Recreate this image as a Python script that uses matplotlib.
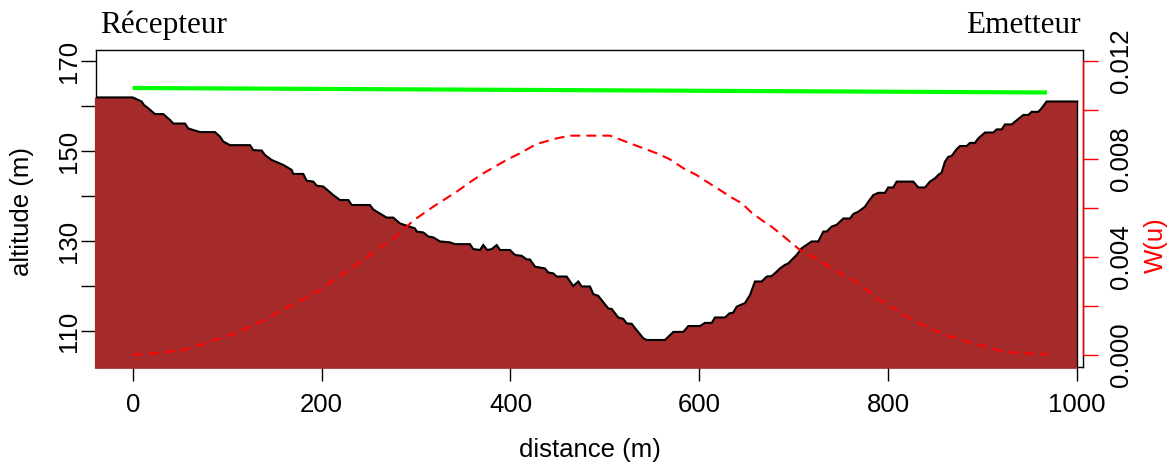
import matplotlib
matplotlib.use("Agg")
import matplotlib.pyplot as plt

# ---------------- data ----------------
# terrain profile (distance m, altitude m)
terrain_dist = [-40, 0, 9.5, 12, 16.5, 23.6, 32.4, 39.5, 43, 55.4, 58.9, 71.3, 87.1, 92.4,
                95.9, 103, 124.2, 127.7, 136.6, 140.1, 147.2, 159.5, 168.3, 170, 180.6,
                184.2, 191.2, 194.8, 201.8, 212.4, 219.5, 228.3, 231.9, 251.2, 254.7,
                268.9, 275.9, 283, 291.8, 298.9, 300.7, 307.7, 313, 318.3, 325.4, 335.9,
                341.2, 357.1, 360.6, 367.7, 371.2, 375.4, 380.1, 385.4, 388.9, 399.5,
                404.8, 411.9, 417.2, 420.6, 426, 436.5, 440, 445.3, 448.9, 459.5, 466.5,
                471.8, 475.4, 484.2, 487.7, 493, 503.6, 507.2, 514.1, 519.4, 523, 528.3,
                533.6, 540.6, 544.2, 563.6, 572.4, 583, 588.3, 600.6, 605.9, 613, 616.5,
                627.1, 631.7, 635.9, 639.5, 644.8, 648.3, 653.6, 658.9, 666, 671.3, 676.5,
                681.9, 685.3, 690.6, 694.1, 697.7, 703, 708.3, 711.8, 718.9, 725.9, 731.2,
                734.8, 740.1, 745.4, 752.4, 759.5, 763, 768.2, 775.3, 778.8, 784.1, 789.4,
                796.5, 800, 805.3, 808.9, 826.5, 831.8, 838.9, 844.1, 849.4, 853, 856.5,
                860, 863.5, 867.1, 872.4, 875.9, 883, 886.5, 891.8, 895.3, 902.4, 911.2,
                914.8, 920.1, 923.6, 930.7, 934.1, 937.7, 943, 948.3, 951.8, 958.8, 962.4,
                967.7, 1000]
terrain_alt = [161.9, 161.9, 161.0, 160.2, 159.5, 158.2, 158.2, 156.9, 156.1, 156.1, 155.0,
               154.2, 154.2, 153.2, 152.1, 151.3, 151.3, 150.2, 150.1, 149.1, 148.0, 146.9,
               145.8, 144.9, 144.9, 143.4, 143.2, 142.3, 142.1, 140.2, 139.1, 139.1, 138.0,
               138.0, 137.0, 135.2, 135.2, 133.9, 133.3, 132.8, 132.1, 131.9, 131.0, 130.8,
               129.9, 129.7, 129.3, 129.3, 128.2, 128.0, 129.1, 128.0, 128.2, 129.1, 128.0,
               128.0, 126.9, 126.7, 125.9, 125.9, 124.3, 123.9, 123.0, 122.8, 122.1, 122.1,
               120.0, 121.0, 119.9, 119.9, 118.2, 117.8, 115.0, 114.9, 113.0, 112.7, 111.7,
               111.6, 110.2, 108.4, 108.0, 108.0, 109.8, 109.8, 111.1, 111.1, 111.8, 111.8,
               113.0, 113.0, 113.9, 114.1, 115.4, 115.9, 116.2, 118.0, 121.0, 121.0, 122.1,
               122.2, 123.2, 123.9, 124.7, 125.0, 125.8, 126.9, 128.4, 128.9, 129.9, 129.9,
               132.1, 132.1, 133.2, 133.6, 135.0, 135.0, 136.0, 136.5, 137.6, 138.7, 140.2,
               140.7, 140.7, 141.9, 141.9, 143.2, 143.2, 141.9, 141.9, 143.2, 143.9, 144.7,
               145.2, 147.6, 148.7, 148.9, 150.4, 151.1, 151.1, 151.8, 151.8, 152.8, 154.1,
               154.1, 154.8, 154.8, 155.9, 155.9, 156.5, 157.1, 158.0, 158.0, 158.7, 158.7,
               159.5, 161.0, 161.0]

# line of sight (receiver -> emitter)
los_dist = [0, 968]
los_alt = [164.0, 163.0]

# weighting function W(u)
w_dist = [0, 25.4, 53.6, 67.8, 88.9, 106.5, 124.2, 141.9, 156, 173.6, 198.3, 212.4, 237.1,
          251.2, 265.3, 279.5, 297.1, 318.3, 343, 360.6, 371.2, 396, 410, 427.7, 448.9,
          463, 505.4, 526.5, 554.8, 568.9, 583, 597.1, 607.7, 621.8, 632.4, 644.8, 655.4,
          666, 676.5, 685.3, 695.9, 706.5, 720.6, 734.8, 748.9, 763, 777.1, 791.2, 805.3,
          823, 840.6, 861.8, 883, 900.6, 918.3, 939.4, 967.7]
w_val = [0.0, 0.000057, 0.00019, 0.00036, 0.00063, 0.00085, 0.00114, 0.00145, 0.0018,
         0.00212, 0.00264, 0.00305, 0.00367, 0.00407, 0.00448, 0.00485, 0.00548, 0.00605,
         0.00666, 0.00714, 0.00741, 0.00796, 0.00823, 0.00861, 0.00884, 0.00895, 0.00895,
         0.00864, 0.00823, 0.00798, 0.00762, 0.00734, 0.00707, 0.00673, 0.00646, 0.00619,
         0.0058, 0.0055, 0.00523, 0.00496, 0.00462, 0.00428, 0.00398, 0.00367, 0.00333,
         0.00305, 0.00264, 0.00223, 0.0019, 0.00149, 0.00114, 0.0008, 0.00053, 0.00036,
         0.00016, 0.00006, 0.00002]

x_ticks = [0, 200, 400, 600, 800, 1000]
y_ticks = [110, 120, 130, 140, 150, 160, 170]
y_ticklabels = ["110", "", "130", "", "150", "", "170"]
w_ticks = [0.0, 0.002, 0.004, 0.006, 0.008, 0.010, 0.012]
w_ticklabels = ["0.000", "", "0.004", "", "0.008", "", "0.012"]

# ---------------- figure ----------------
W, H = 1172, 466
fig = plt.figure(figsize=(W / 100, H / 100), dpi=100)
L, R, T, B = 96, 1083, 50, 367
ax = fig.add_axes([L / W, 1 - B / H, (R - L) / W, (B - T) / H])
sans = "Liberation Sans"
serif = "Liberation Serif"
fs = 18.5

ax.set_xlim(-38.85, 1006.2)
ax.set_ylim(102.0, 172.44)

bottom_alt = 101.6
poly_x = list(terrain_dist) + [terrain_dist[-1], terrain_dist[0]]
poly_y = list(terrain_alt) + [bottom_alt, bottom_alt]
ax.fill(poly_x, poly_y, color="#A52A2A", lw=0, zorder=3, clip_on=False)
ax.plot(terrain_dist, terrain_alt, color="black", lw=1.5, zorder=4,
        solid_joinstyle="miter")
ax.plot([terrain_dist[-1], terrain_dist[-1]], [terrain_alt[-1], 102.0],
        color="black", lw=1.0, zorder=4)
ax.plot(los_dist, los_alt, color="#00FF00", lw=3.0, zorder=5, solid_capstyle="butt")

for s in ax.spines.values():
    s.set_linewidth(1.0)
ax.set_xticks(x_ticks)
ax.set_xticklabels([str(v) for v in x_ticks], fontsize=fs, family=sans)
ax.set_yticks(y_ticks)
ax.set_yticklabels(y_ticklabels, fontsize=fs, family=sans, rotation=90, va="center")
ax.tick_params(axis="x", length=10, width=1.0, pad=9)
ax.tick_params(axis="y", length=11, width=1.0, pad=0)
ax.set_xlabel("distance (m)", fontsize=fs, family=sans, labelpad=14.5)

ax2 = ax.twinx()
ax2.set_position(ax.get_position())
ax2.set_ylim(-0.000503, 0.01245)
ax2.plot(w_dist, w_val, color="red", lw=1.5, ls=(0, (4.8, 2.9)), zorder=6)
for k in ["left", "top", "bottom"]:
    ax2.spines[k].set_visible(False)
ax2.spines["right"].set_bounds(0, 0.012)
ax2.spines["right"].set_color("red")
ax2.spines["right"].set_linewidth(1.0)
ax2.set_yticks(w_ticks)
ax2.set_yticklabels(w_ticklabels, fontsize=fs, family=sans, rotation=90, va="center")
ax2.tick_params(axis="y", length=11, width=1.0, color="red", pad=8)

fig.text(22 / W, 1 - 211 / H, "altitude (m)", rotation=90, ha="center", va="center",
         fontsize=fs, family=sans)
fig.text(1156 / W, 1 - 245 / H, "W(u)", rotation=90, ha="center", va="center",
         fontsize=fs, family=sans, color="red")
fig.text(100 / W, 1 - 33 / H, "Récepteur", ha="left", va="baseline",
         fontsize=22.5, family=serif)
fig.text(1081 / W, 1 - 33 / H, "Emetteur", ha="right", va="baseline",
         fontsize=22.5, family=serif)

fig.savefig("out.png", dpi=100)
